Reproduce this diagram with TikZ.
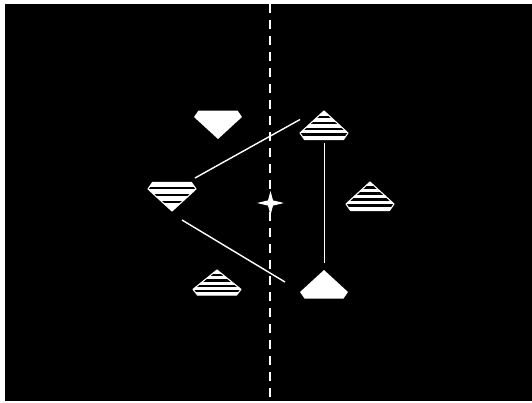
\documentclass[tikz,border=0pt]{standalone}
\begin{document}
\begin{tikzpicture}[x=1pt,y=-1pt,
  connector/.style={white, line width=1.4pt},
  axisline/.style={white, line width=2pt, dash pattern=on 9pt off 7pt, dash phase=0pt},
  solidgem/.pic={
    \fill[white] (0,0) -- (24,22) -- (19.5,28.5) -- (-19.5,28.5) -- (-24,22) -- cycle;
  },
  stripedgem/.pic={
    \fill[white] (0,0) -- (24,22) -- (19.5,28.5) -- (-19.5,28.5) -- (-24,22) -- cycle;
    \begin{scope}
      \clip (0,0) -- (24,22) -- (19.5,28.5) -- (-19.5,28.5) -- (-24,22) -- cycle;
      \foreach \s in {#1} \fill[black] (-30,\s-1.3) rectangle (30,\s+1.3);
    \end{scope}
    \draw[white, line width=1.1pt, line join=round] (0,0) -- (24,22) -- (19.5,28.5) -- (-19.5,28.5) -- (-24,22) -- cycle;
  }
]
\useasboundingbox (0,0) rectangle (532,402);
\fill[white] (0,0) rectangle (532,402);
\fill[black] (5,4) rectangle (532,401);

% vertical dashed axis
\coordinate (axtop) at (269.5,4);
\coordinate (axbot) at (269.5,401);
\draw[axisline] (axtop) -- (axbot);

% shapes (named by their apex)
\coordinate (tl) at (218,139);
\coordinate (tr) at (324,111);
\coordinate (lf) at (172,211);
\coordinate (rt) at (370,182);
\coordinate (bl) at (217,270);
\coordinate (bm) at (324,270);

\pic[yscale=-1] at (tl) {solidgem};
\pic at (tr) {stripedgem={6,12,18,23.5}};
\pic[yscale=-1] at (lf) {stripedgem={9,16,23}};
\pic at (rt) {stripedgem={5.5,11.5,17.5,23.5}};
\pic[yscale=0.88] at (bl) {stripedgem={6,12,18,23.5}};
\pic at (bm) {solidgem};

% connectors
\coordinate (c1a) at (195,178);
\coordinate (c1b) at (300,119.5);
\coordinate (c2a) at (324.5,143);
\coordinate (c2b) at (324.5,263);
\coordinate (c3a) at (182,220);
\coordinate (c3b) at (285,282);
\draw[connector] (c1a) -- (c1b);
\draw[connector] (c2a) -- (c2b);
\draw[connector] (c3a) -- (c3b);

% centre star
\coordinate (star) at (270.5,203);
\fill[white] (star) ++(-13.5,0) -- ++(11,-2.6) -- ++(2.5,-9.5) -- ++(2.5,9.5) -- ++(11,2.6) -- ++(-11,2.6) -- ++(-2.5,9.5) -- ++(-2.5,-9.5) -- cycle;
\end{tikzpicture}
\end{document}
